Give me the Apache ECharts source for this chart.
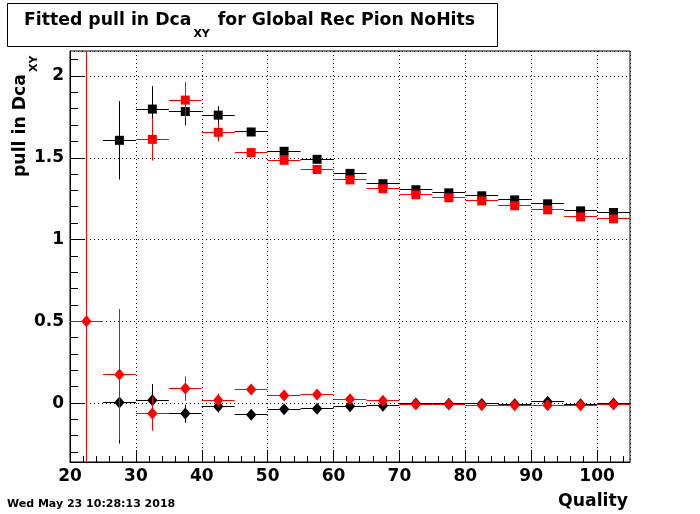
<!DOCTYPE html>
<html>
<head>
<meta charset="utf-8">
<script src="https://cdn.jsdelivr.net/npm/echarts@6/dist/echarts.min.js"></script>
<style>
html,body{margin:0;padding:0;background:#fff;}
#chart{width:700px;height:514px;}
</style>
</head>
<body>
<div id="chart"></div>
<script>
// ---- data ----
const binCenters = [22.5, 27.5, 32.5, 37.5, 42.5, 47.5, 52.5, 57.5, 62.5, 67.5, 72.5, 77.5, 82.5, 87.5, 92.5, 97.5, 102.5];
const binHalfWidth = 2.5;

const blackSquare    = [null, 1.607, 1.798, 1.783, 1.761, 1.658, 1.540, 1.491, 1.405, 1.342, 1.305, 1.286, 1.268, 1.243, 1.219, 1.176, 1.166];
const blackSquareErr = [null, 0.24, 0.14, 0.085, 0.055, 0.025, 0.02, 0.015, 0.015, 0.015, 0.015, 0.015, 0.015, 0.015, 0.015, 0.015, 0.015];
const redSquare      = [null, null, 1.613, 1.853, 1.656, 1.532, 1.485, 1.429, 1.365, 1.311, 1.274, 1.256, 1.237, 1.207, 1.182, 1.139, 1.127];
const redSquareErr   = [null, null, 0.13, 0.11, 0.055, 0.03, 0.02, 0.015, 0.015, 0.015, 0.015, 0.015, 0.015, 0.015, 0.015, 0.015, 0.015];

const blackDiamond    = [null, 0.004, 0.018, -0.063, -0.020, -0.070, -0.037, -0.033, -0.018, -0.015, -0.002, -0.003, -0.004, -0.006, 0.010, -0.006, -0.002];
const blackDiamondErr = [null, 0.25, 0.10, 0.055, 0.035, 0.02, 0.015, 0.015, 0.015, 0.015, 0.015, 0.015, 0.015, 0.015, 0.015, 0.015, 0.015];
const redDiamond      = [0.501, 0.176, -0.063, 0.090, 0.018, 0.084, 0.047, 0.053, 0.025, 0.016, -0.008, -0.008, -0.012, -0.012, -0.012, -0.012, -0.008];
const redDiamondErr   = [3.0, 0.40, 0.105, 0.075, 0.04, 0.02, 0.015, 0.015, 0.015, 0.015, 0.015, 0.015, 0.015, 0.015, 0.015, 0.015, 0.015];

const X_MIN = 20, X_MAX = 105;
const Y_MIN = -0.359, Y_MAX = 2.153;
const xMinorTicks = [22, 24, 26, 28, 32, 34, 36, 38, 42, 44, 46, 48, 52, 54, 56, 58, 62, 64, 66, 68, 72, 74, 76, 78, 82, 84, 86, 88, 92, 94, 96, 98, 102, 104];
const yMinorTicks = [-0.3, -0.2, -0.1, 0.1, 0.2, 0.3, 0.4, 0.6, 0.7, 0.8, 0.9, 1.1, 1.2, 1.3, 1.4, 1.6, 1.7, 1.8, 1.9, 2.1];

const titleMain = 'Fitted pull in Dca';
const titleSub = 'XY';
const titleRest = ' for Global Rec Pion NoHits';
const yTitleMain = 'pull in Dca';
const xTitle = 'Quality';
const dateText = 'Wed May 23 10:28:13 2018';

const FONT = '"DejaVu Sans", sans-serif';

function build(values, errs) {
  const out = [];
  for (let i = 0; i < binCenters.length; i++) {
    if (values[i] !== null && values[i] !== undefined) out.push([binCenters[i], values[i], errs[i]]);
  }
  return out;
}

function crisp(v) { return Math.round(v - 0.5) + 0.5; }

function makeRender(shape, color) {
  return function (params, api) {
    const x = api.value(0), y = api.value(1), e = api.value(2);
    const c = api.coord([x, y]);
    const l = api.coord([x - binHalfWidth, y]);
    const r = api.coord([x + binHalfWidth, y]);
    const t = api.coord([x, y + e]);
    const b = api.coord([x, y - e]);
    const cy = crisp(c[1]), cx = crisp(c[0]);
    const children = [
      {type: 'line', shape: {x1: l[0], y1: cy, x2: r[0], y2: cy}, style: {stroke: color, lineWidth: 1}},
      {type: 'line', shape: {x1: cx, y1: t[1], x2: cx, y2: b[1]}, style: {stroke: color, lineWidth: 1}}
    ];
    if (shape === 'square') {
      children.push({type: 'rect', shape: {x: c[0] - 4.5, y: c[1] - 4.5, width: 9, height: 9}, style: {fill: color}});
    } else {
      children.push({type: 'polygon', shape: {points: [[c[0], c[1] - 6], [c[0] + 5.2, c[1]], [c[0], c[1] + 6], [c[0] - 5.2, c[1]]]}, style: {fill: color}});
    }
    return {type: 'group', children: children};
  };
}

const chart = echarts.init(document.getElementById('chart'), null, {renderer: 'canvas'});

const option = {
  animation: false,
  backgroundColor: '#fff',
  grid: {left: 70, right: 70, top: 51, bottom: 52, show: true, borderColor: '#000', borderWidth: 1, backgroundColor: 'transparent'},
  xAxis: {
    type: 'value', min: X_MIN, max: X_MAX, interval: 10,
    axisLine: {show: true, onZero: false, lineStyle: {color: '#000', width: 1}},
    axisTick: {show: true, inside: true, length: 12, lineStyle: {color: '#000'}},
    minorTick: {show: false},
    splitLine: {show: true, lineStyle: {color: '#000', type: [1, 3], width: 1}},
    axisLabel: {show: true, color: '#000', fontFamily: FONT, fontWeight: 'bold', fontSize: 17, margin: 6, showMaxLabel: false,
      formatter: function (v) { return (v % 10 === 0 && v <= 100) ? String(v) : ''; }}
  },
  yAxis: {
    type: 'value', min: Y_MIN, max: Y_MAX, splitNumber: 5,
    axisLine: {show: true, onZero: false, lineStyle: {color: '#000', width: 1}},
    axisTick: {show: true, inside: true, length: 15, lineStyle: {color: '#000'}},
    splitLine: {show: true, lineStyle: {color: '#000', type: [1, 3], width: 1}},
    axisLabel: {show: true, color: '#000', fontFamily: FONT, fontWeight: 'bold', fontSize: 17, margin: 6, showMinLabel: false, showMaxLabel: false,
      formatter: function (v) { return ([0, 0.5, 1, 1.5, 2].indexOf(Math.round(v * 1000) / 1000) >= 0) ? String(Math.round(v * 1000) / 1000) : ''; }}
  },
  graphic: [
    {type: 'rect', shape: {x: 7.5, y: 3.5, width: 490, height: 43}, style: {fill: '#fff', stroke: '#000', lineWidth: 1}},
    {type: 'text', x: 24, y: 21, style: {
      text: '{a|' + titleMain + '}{s|' + titleSub + '}{a|' + titleRest + '}',
      align: 'left', verticalAlign: 'middle',
      rich: {
        a: {fontFamily: FONT, fontWeight: 'bold', fontSize: 17.3, lineHeight: 38, verticalAlign: 'middle', fill: '#000'},
        s: {fontFamily: FONT, fontWeight: 'bold', fontSize: 11, lineHeight: 12, verticalAlign: 'bottom', fill: '#000', padding: [0, 2, 0, 2]}
      }
    }},
    {type: 'text', x: 21, y: 177, rotation: Math.PI / 2, style: {
      text: '{a|' + yTitleMain + '}{s|' + titleSub + '}',
      align: 'left', verticalAlign: 'middle',
      rich: {
        a: {fontFamily: FONT, fontWeight: 'bold', fontSize: 17.3, lineHeight: 38, verticalAlign: 'middle', fill: '#000'},
        s: {fontFamily: FONT, fontWeight: 'bold', fontSize: 11, lineHeight: 12, verticalAlign: 'bottom', fill: '#000', padding: [0, 0, 0, 2]}
      }
    }},
    {type: 'text', x: 628, y: 502, style: {text: xTitle, fontFamily: FONT, fontWeight: 'bold', fontSize: 17.3, align: 'right', verticalAlign: 'middle', fill: '#000'}},
    {type: 'text', x: 7, y: 504, style: {text: dateText, fontFamily: FONT, fontWeight: 'bold', fontSize: 11, align: 'left', verticalAlign: 'middle', fill: '#000'}}
  ],
  series: [
    {type: 'custom', name: 'xMinorTicks', silent: true, clip: false, z: 1,
      data: xMinorTicks.map(v => [v, Y_MIN]),
      renderItem: function (params, api) {
        const p = api.coord([api.value(0), api.value(1)]);
        const x = crisp(p[0]);
        return {type: 'line', shape: {x1: x, y1: p[1], x2: x, y2: p[1] - 6}, style: {stroke: '#000', lineWidth: 1}};
      }},
    {type: 'custom', name: 'yMinorTicks', silent: true, clip: false, z: 1,
      data: yMinorTicks.map(v => [X_MIN, v]),
      renderItem: function (params, api) {
        const p = api.coord([api.value(0), api.value(1)]);
        const y = crisp(p[1]);
        return {type: 'line', shape: {x1: p[0], y1: y, x2: p[0] + 8, y2: y}, style: {stroke: '#000', lineWidth: 1}};
      }},
    {type: 'custom', name: 'blackSquare', clip: true, z: 2, data: build(blackSquare, blackSquareErr), renderItem: makeRender('square', '#000000')},
    {type: 'custom', name: 'blackDiamond', clip: true, z: 2, data: build(blackDiamond, blackDiamondErr), renderItem: makeRender('diamond', '#000000')},
    {type: 'custom', name: 'redSquare', clip: true, z: 3, data: build(redSquare, redSquareErr), renderItem: makeRender('square', '#ff0000')},
    {type: 'custom', name: 'redDiamond', clip: true, z: 3, data: build(redDiamond, redDiamondErr), renderItem: makeRender('diamond', '#ff0000')}
  ]
};
chart.setOption(option);
</script>
</body>
</html>
